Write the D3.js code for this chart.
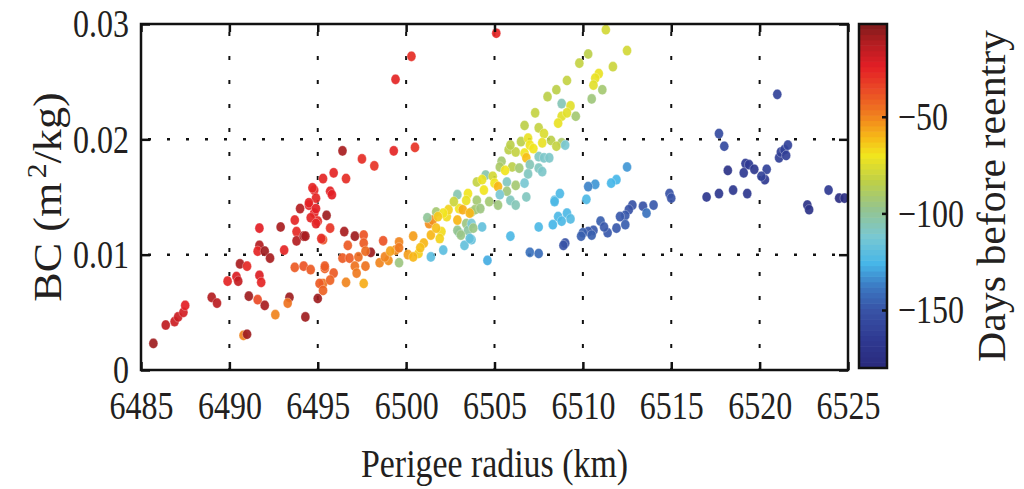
<!DOCTYPE html>
<html>
<head>
<meta charset="utf-8">
<script src="https://cdn.jsdelivr.net/npm/d3@7"></script>
<style>
  body { margin: 0; background: #fff; }
  text { font-family: "Liberation Serif", "Times New Roman", Times, serif; fill: #231f20; }
</style>
</head>
<body>
<div id="plot"></div>
<script>
// values: perigee radius (km), BC (m2/kg), days before reentry
const perigeeRadius = [
  6485.7,6486.4,6486.9,6487.1,6487.4,6487.5,6489.0,6489.3,6489.9,6490.4,
  6490.5,6490.6,6491.0,6490.8,6491.0,6491.1,6491.6,6492.0,6491.7,6491.7,
  6491.6,6492.0,6492.3,6491.7,6491.8,6492.6,6492.9,6493.1,6493.4,6493.3,
  6493.7,6493.8,6493.8,6494.2,6494.0,6494.5,6494.8,6494.8,6495.0,6495.5,
  6495.3,6493.7,6494.2,6494.6,6494.3,6495.0,6495.3,6495.4,
  6496.4,6497.5,6498.2,6499.3,6500.5,6495.3,6495.9,6496.6,6494.7,6495.7,
  6495.8,6494.9,6494.5,6494.9,6494.6,6494.9,6494.3,6495.2,6495.7,6496.5,
  6497.1,6497.6,6498.7,6496.7,6497.6,6498.0,6496.4,6496.8,6497.3,6497.7,
  6497.1,6497.7,6497.2,6495.4,6495.9,6495.7,6495.1,6495.3,6496.6,6497.6,
  6498.5,6499.0,6499.6,6499.6,6499.4,6500.1,6500.4,6500.7,6501.0,6501.4,
  6501.3,6501.5,6501.2,6501.7,6502.0,6501.9,6501.4,6502.1,6502.3,6502.9,
  6503.0,6503.2,6502.9,6503.5,6503.7,6503.4,6503.0,6503.3,6503.7,6504.0,
  6498.8,6499.1,6500.4,6500.8,6499.6,6502.4,6502.1,6501.8,6502.7,6503.4,
  6502.9,6503.5,6501.7,
  6507.3,6508.8,6508.6,6506.7,6507.5,6507.8,6506.5,6506.9,6507.0,6507.7,
  6508.2,6508.8,6508.5,6505.8,6506.2,6506.7,6506.8,6507.5,6507.8,6508.1,
  6505.4,6505.3,6506.0,6506.4,6507.0,6507.5,6505.6,6506.9,6507.7,6504.5,
  6504.9,6505.0,6504.3,6504.4,6505.2,6505.7,6506.2,6506.7,6505.7,6505.3,
  6505.9,6506.8,6504.7,6505.2,6506.2,6504.0,6503.9,6504.2,6503.6,6503.7,
  6504.3,6503.8,6503.1,6503.6,6504.6,6505.9,6507.5,6507.0,6507.5,6508.3,
  6508.6,6509.1,6508.4,6508.7,6509.0,
  6505.1,6511.3,6512.5,6510.3,6509.8,6511.7,6510.9,6510.7,6510.6,6511.1,
  6509.1,6508.5,6508.0,6510.5,6508.8,6509.3,6509.1,6509.6,6509.0,6505.9,
  6507.2,6512.5,6511.9,6511.6,6510.7,6510.3,6499.4,6500.3,
  6510.2,6508.4,6509.3,6508.8,6508.9,6514.9,6515.0,6517.0,6517.7,6514.0,
  6513.4,6513.6,6512.8,6512.6,6512.4,6512.1,6512.4,6511.9,6511.4,6511.0,
  6511.2,6510.6,6510.3,6510.0,6509.9,6510.5,6518.5,6519.3,6520.3,6522.7,
  6522.8,6523.9,6524.5,6524.8,6521.0,6517.7,6518.0,6521.1,6521.2,6521.4,
  6521.6,6521.5,6519.2,6519.4,6519.7,6519.1,6518.2,6520.4,6520.1
];
const ballisticCoef = [
  0.0023,0.0039,0.0042,0.0046,0.0050,0.0056,0.0063,0.0058,0.0077,0.0081,
  0.0077,0.0092,0.0090,0.0030,0.0031,0.0064,0.0061,0.0056,0.0123,0.0108,
  0.0103,0.0103,0.0097,0.0082,0.0076,0.0048,0.0124,0.0104,0.0063,0.0058,
  0.0130,0.0120,0.0112,0.0116,0.0140,0.0143,0.0156,0.0136,0.0129,0.0134,
  0.0113,0.0089,0.0090,0.0087,0.0046,0.0062,0.0075,0.0088,
  0.0190,0.0183,0.0177,0.0190,0.0193,0.0166,0.0171,0.0166,0.0158,0.0155,
  0.0152,0.0149,0.0145,0.0140,0.0132,0.0127,0.0116,0.0114,0.0123,0.0120,
  0.0116,0.0117,0.0112,0.0108,0.0110,0.0102,0.0097,0.0097,0.0098,0.0103,
  0.0090,0.0090,0.0084,0.0090,0.0084,0.0078,0.0075,0.0069,0.0076,0.0075,
  0.0093,0.0095,0.0093,0.0111,0.0104,0.0100,0.0116,0.0101,0.0110,0.0117,
  0.0127,0.0130,0.0132,0.0137,0.0120,0.0114,0.0098,0.0104,0.0133,0.0152,
  0.0140,0.0139,0.0130,0.0153,0.0137,0.0127,0.0119,0.0108,0.0113,0.0163,
  0.0098,0.0103,0.0098,0.0106,0.0106,0.0139,0.0136,0.0133,0.0146,0.0147,
  0.0121,0.0121,0.0123,
  0.0223,0.0220,0.0214,0.0212,0.0210,0.0205,0.0198,0.0201,0.0195,0.0197,
  0.0199,0.0197,0.0194,0.0191,0.0189,0.0188,0.0184,0.0185,0.0184,0.0184,
  0.0181,0.0176,0.0176,0.0175,0.0178,0.0175,0.0173,0.0170,0.0172,0.0169,
  0.0168,0.0162,0.0165,0.0156,0.0159,0.0163,0.0160,0.0162,0.0155,0.0152,
  0.0147,0.0150,0.0146,0.0143,0.0143,0.0147,0.0139,0.0140,0.0136,0.0127,
  0.0124,0.0123,0.0117,0.0114,0.0095,0.0116,0.0124,0.0102,0.0101,0.0126,
  0.0133,0.0136,0.0147,0.0153,0.0110,
  0.0292,0.0295,0.0277,0.0274,0.0266,0.0263,0.0257,0.0253,0.0247,0.0243,
  0.0251,0.0243,0.0237,0.0235,0.0231,0.0229,0.0223,0.0220,0.0195,0.0195,
  0.0192,0.0176,0.0165,0.0162,0.0161,0.0159,0.0252,0.0272,
  0.0148,0.0146,0.0131,0.0129,0.0108,0.0153,0.0149,0.0150,0.0153,0.0143,
  0.0142,0.0136,0.0143,0.0139,0.0134,0.0133,0.0126,0.0123,0.0119,0.0129,
  0.0124,0.0121,0.0120,0.0119,0.0116,0.0117,0.0156,0.0153,0.0165,0.0143,
  0.0139,0.0156,0.0149,0.0149,0.0239,0.0205,0.0194,0.0184,0.0189,0.0191,
  0.0195,0.0186,0.0179,0.0178,0.0174,0.0171,0.0173,0.0174,0.0168
];
const daysBefore = [
  -8,-15,-18,-18,-20,-24,-12,-14,-26,-22,
  -16,-10,-27,-50,-8,-8,-36,-10,-24,-12,
  -26,-8,-10,-22,-26,-50,-10,-26,-8,-46,
  -26,-27,-12,-10,-12,-24,-26,-25,-27,-8,
  -38,-40,-38,-40,-8,-8,-46,-42,
  -10,-28,-30,-26,-30,-26,-26,-28,-26,-25,
  -24,-26,-25,-24,-26,-25,-10,-28,-30,-10,
  -8,-38,-38,-40,-40,-8,-40,-40,-44,-44,
  -46,-46,-48,-40,-40,-42,-40,-42,-50,-58,
  -50,-52,-95,-50,-52,-55,-55,-65,-60,-60,
  -52,-52,-100,-92,-68,-66,-120,-120,-68,-105,
  -70,-58,-60,-70,-92,-95,-108,-118,-118,-82,
  -50,-56,-60,-62,-48,-66,-70,-64,-80,-72,
  -98,-102,-62,
  -82,-74,-72,-84,-82,-76,-84,-72,-70,-72,
  -84,-90,-82,-84,-82,-70,-62,-108,-110,-110,
  -92,-90,-84,-92,-106,-108,-70,-108,-110,-104,
  -78,-70,-72,-70,-60,-108,-92,-112,-94,-112,
  -108,-108,-92,-94,-106,-92,-92,-95,-60,-112,
  -118,-96,-96,-118,-128,-124,-124,-140,-142,-126,
  -124,-124,-124,-124,-150,
  -26,-78,-78,-84,-82,-80,-72,-72,-74,-92,
  -82,-84,-84,-94,-106,-74,-74,-92,-112,-84,
  -70,-132,-126,-126,-132,-136,-26,-28,
  -124,-124,-122,-124,-150,-150,-150,-168,-168,-148,
  -150,-140,-150,-150,-148,-148,-146,-148,-148,-146,
  -148,-148,-148,-146,-146,-146,-168,-168,-166,-172,
  -172,-166,-176,-176,-160,-155,-155,-162,-162,-160,
  -160,-162,-165,-165,-168,-166,-172,-160,-160
];

const xTicks = [6485, 6490, 6495, 6500, 6505, 6510, 6515, 6520, 6525];
const yTicks = [0, 0.01, 0.02, 0.03];
const cTicks = [-50, -100, -150];

// jet-like colormap as printed
const stopDays = [-180, -165, -150, -138, -126, -112, -98, -84, -70, -60, -48, -36, -24, -12, -2];
const stopColors = ["#2a2a7c", "#2f3a92", "#3853a6", "#3b78c2", "#46b6e8", "#79c8d2", "#94c490",
                    "#bccf4a", "#f1e51e", "#f7b617", "#ef7a1f", "#ea4a26", "#e31e25", "#b31d21", "#7e1c1c"];

const width = 1024, height = 489;
const plot = {left: 141, right: 848, top: 24, bottom: 370};
const cbar = {left: 859, right: 887, top: 24, bottom: 368};
const fontSize = 40, squeeze = 0.8;   // printed font is a narrow serif

let svg = d3.select("#plot").append("svg")
  .attr("width", width)
  .attr("height", height);

let x = d3.scaleLinear().domain([6485, 6525]).range([plot.left, plot.right]);
let y = d3.scaleLinear().domain([0, 0.03]).range([plot.bottom, plot.top]);
let cy = d3.scaleLinear().domain([-180, -2]).range([cbar.bottom, cbar.top]);
let color = d3.scaleLinear().domain(stopDays).range(stopColors)
  .interpolate(d3.interpolateRgb).clamp(true);

function condense(sel, k) {
  sel.each(function() {
    let w = this.getComputedTextLength();
    d3.select(this).attr("textLength", w * k).attr("lengthAdjust", "spacingAndGlyphs");
  });
}

// dotted grid
svg.append("g").selectAll("line")
  .data(xTicks.slice(1, -1))
  .enter().append("line")
  .attr("x1", d => x(d)).attr("x2", d => x(d))
  .attr("y1", plot.bottom).attr("y2", plot.top)
  .attr("stroke", "#111").attr("stroke-width", 2)
  .attr("stroke-dasharray", "4,20").attr("stroke-dashoffset", 2);

svg.append("g").selectAll("line")
  .data(yTicks.slice(1, -1))
  .enter().append("line")
  .attr("x1", plot.left).attr("x2", plot.right)
  .attr("y1", d => y(d)).attr("y2", d => y(d))
  .attr("stroke", "#111").attr("stroke-width", 2.5)
  .attr("stroke-dasharray", "3,16").attr("stroke-dashoffset", 12);

// points
let pts = perigeeRadius.map((r, i) => ({r: r, bc: ballisticCoef[i], d: daysBefore[i]}));
svg.append("g").selectAll("ellipse")
  .data(pts)
  .enter().append("ellipse")
  .attr("cx", d => x(d.r))
  .attr("cy", d => y(d.bc))
  .attr("rx", 4.5).attr("ry", 5.1)
  .attr("fill", d => color(d.d))
  .attr("fill-opacity", 0.92)
  .attr("stroke", "#fff").attr("stroke-opacity", 0.5).attr("stroke-width", 0.6);

// axes, ticks pointing inward
function styleAxis(g) {
  g.select(".domain").remove();
  g.attr("font-family", null);
  g.selectAll(".tick line").attr("stroke", "#111").attr("stroke-width", 2.5);
  g.selectAll(".tick text").attr("font-size", fontSize).attr("fill", "#231f20")
    .call(condense, squeeze);
}

svg.append("g")
  .attr("transform", "translate(0," + plot.bottom + ")")
  .call(d3.axisBottom(x).tickValues(xTicks).tickSizeInner(-8).tickSizeOuter(0)
    .tickPadding(21).tickFormat(d3.format("d")))
  .call(styleAxis);

svg.append("g")
  .attr("transform", "translate(0," + plot.top + ")")
  .call(d3.axisTop(x).tickValues(xTicks).tickSizeInner(-8).tickSizeOuter(0).tickFormat(""))
  .call(styleAxis);

svg.append("g")
  .attr("transform", "translate(" + plot.left + ",0)")
  .call(d3.axisLeft(y).tickValues(yTicks).tickSizeInner(-9).tickSizeOuter(0)
    .tickPadding(12).tickFormat(d => d === 0 ? "0" : d3.format(".2f")(d)))
  .call(styleAxis);

svg.append("g")
  .attr("transform", "translate(" + plot.right + ",0)")
  .call(d3.axisRight(y).tickValues(yTicks).tickSizeInner(-9).tickSizeOuter(0).tickFormat(""))
  .call(styleAxis);

svg.append("rect")
  .attr("x", plot.left).attr("y", plot.top)
  .attr("width", plot.right - plot.left).attr("height", plot.bottom - plot.top)
  .attr("fill", "none").attr("stroke", "#111").attr("stroke-width", 2.5);

// colorbar, 64 bands
let bands = d3.range(64).map(i => -180 + (i + 0.5) * 178 / 64);
svg.append("g").selectAll("rect")
  .data(bands)
  .enter().append("rect")
  .attr("x", cbar.left)
  .attr("width", cbar.right - cbar.left)
  .attr("y", d => cy(d + 178 / 128) - 0.3)
  .attr("height", (cbar.bottom - cbar.top) / 64 + 0.6)
  .attr("fill", d => color(d));

svg.append("g")
  .attr("transform", "translate(" + cbar.right + ",0)")
  .call(d3.axisRight(cy).tickValues(cTicks).tickSizeInner(-5).tickSizeOuter(0)
    .tickPadding(11).tickFormat(d => "\u2212" + Math.abs(d)))
  .call(styleAxis);

svg.append("rect")
  .attr("x", cbar.left).attr("y", cbar.top)
  .attr("width", cbar.right - cbar.left).attr("height", cbar.bottom - cbar.top)
  .attr("fill", "none").attr("stroke", "#111").attr("stroke-width", 2.5);

// titles
svg.append("text")
  .attr("x", (plot.left + plot.right) / 2).attr("y", 477)
  .attr("text-anchor", "middle").attr("font-size", fontSize)
  .attr("textLength", 267).attr("lengthAdjust", "spacingAndGlyphs")
  .text("Perigee radius (km)");

let yt = svg.append("text")
  .attr("text-anchor", "middle").attr("font-size", fontSize);
yt.append("tspan").text("BC (m");
yt.append("tspan").attr("font-size", 27).attr("dy", -15).attr("dx", 4).text("2");
yt.append("tspan").attr("dy", 15).text("/kg)");
let ytw = yt.node().getComputedTextLength();
yt.attr("transform", "translate(61," + (plot.top + plot.bottom) / 2 + ") rotate(-90) scale(" + (205 / ytw) + ",1)");

svg.append("text")
  .attr("transform", "translate(1005,196) rotate(-90)")
  .attr("text-anchor", "middle").attr("font-size", fontSize)
  .attr("textLength", 332).attr("lengthAdjust", "spacingAndGlyphs")
  .text("Days before reentry");
</script>
</body>
</html>
